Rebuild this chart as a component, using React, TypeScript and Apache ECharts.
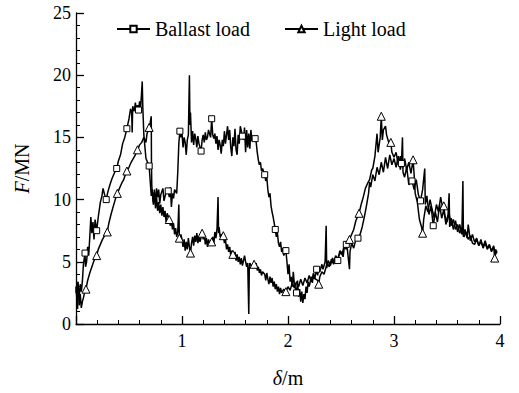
import React, { useEffect, useRef } from "react";
import * as echarts from "echarts";

// [delta (m), F (MN), marker flag]
const ballastLoad: [number, number, number][] = [
  [0.0, 2.5, 0], [0.01, 3.4, 0], [0.015, 1.2, 0], [0.02, 3.0, 0], [0.03, 2.2, 0], [0.04, 3.2, 0],
  [0.05, 2.6, 0], [0.06, 3.4, 0], [0.07, 4.8, 0], [0.085, 5.7, 1], [0.09, 4.6, 0], [0.1, 5.0, 0],
  [0.11, 6.2, 0], [0.12, 5.5, 0], [0.13, 7.0, 0], [0.14, 8.6, 0], [0.15, 7.3, 0], [0.16, 8.2, 0],
  [0.17, 6.8, 0], [0.18, 8.4, 0], [0.195, 7.5, 1], [0.21, 8.6, 0], [0.23, 9.8, 0], [0.245, 10.3, 0],
  [0.255, 10.9, 0], [0.27, 10.4, 0], [0.285, 10.0, 1], [0.3, 10.6, 0], [0.32, 11.2, 0], [0.34, 11.7, 0],
  [0.36, 12.1, 0], [0.384, 12.5, 1], [0.4, 13.1, 0], [0.42, 13.6, 0], [0.44, 14.5, 0], [0.46, 15.0, 0],
  [0.48, 15.7, 1], [0.5, 16.5, 0], [0.515, 17.3, 0], [0.525, 17.0, 0], [0.53, 15.4, 0], [0.535, 17.5, 0],
  [0.55, 17.1, 0], [0.56, 17.8, 0], [0.57, 17.2, 0], [0.58, 17.6, 0], [0.59, 17.2, 1], [0.6, 17.9, 0],
  [0.61, 17.4, 0], [0.625, 19.5, 0], [0.63, 17.5, 0], [0.64, 15.2, 0], [0.66, 13.3, 0], [0.69, 12.7, 1],
  [0.7, 11.5, 0], [0.71, 10.3, 0], [0.72, 10.8, 0], [0.73, 9.8, 0], [0.74, 10.6, 0], [0.75, 9.6, 0],
  [0.76, 10.9, 0], [0.77, 10.2, 0], [0.78, 10.8, 0], [0.79, 9.7, 0], [0.8, 10.4, 0], [0.82, 10.9, 0],
  [0.83, 9.9, 0], [0.85, 10.6, 0], [0.87, 10.7, 1], [0.88, 10.2, 0], [0.89, 11.0, 0], [0.9, 9.4, 0],
  [0.91, 10.5, 0], [0.92, 10.1, 0], [0.93, 10.8, 0], [0.95, 10.5, 0], [0.96, 12.2, 0], [0.97, 14.5, 0],
  [0.98, 15.5, 1], [0.99, 15.0, 0], [1.0, 15.3, 0], [1.01, 14.2, 0], [1.02, 15.0, 0], [1.03, 14.6, 0],
  [1.04, 13.6, 0], [1.05, 14.8, 0], [1.06, 15.2, 0], [1.07, 20.0, 0], [1.075, 16.0, 0], [1.08, 17.0, 0],
  [1.09, 14.6, 0], [1.1, 15.5, 0], [1.11, 14.4, 0], [1.12, 15.3, 0], [1.13, 14.9, 0], [1.14, 14.2, 0],
  [1.15, 15.1, 0], [1.16, 14.5, 0], [1.18, 13.9, 1], [1.19, 14.8, 0], [1.2, 15.2, 0], [1.21, 14.6, 0],
  [1.22, 15.4, 0], [1.23, 14.8, 0], [1.24, 15.0, 0], [1.25, 15.6, 0], [1.27, 15.0, 0], [1.28, 16.5, 1],
  [1.29, 15.2, 0], [1.3, 14.9, 0], [1.31, 15.3, 0], [1.32, 14.5, 0], [1.33, 15.1, 0], [1.34, 14.0, 0],
  [1.35, 14.8, 0], [1.36, 14.4, 0], [1.37, 13.7, 0], [1.38, 14.8, 0], [1.39, 14.3, 0], [1.4, 15.5, 0],
  [1.41, 14.5, 0], [1.42, 15.2, 0], [1.43, 15.9, 0], [1.44, 14.8, 0], [1.45, 15.6, 0], [1.46, 14.2, 0],
  [1.47, 13.5, 0], [1.48, 15.0, 0], [1.49, 14.3, 0], [1.5, 15.7, 0], [1.51, 14.0, 0], [1.52, 13.6, 0],
  [1.53, 15.2, 0], [1.54, 14.5, 0], [1.55, 15.9, 0], [1.57, 15.1, 1], [1.58, 14.8, 0], [1.59, 15.8, 0],
  [1.6, 13.8, 0], [1.61, 15.6, 0], [1.62, 14.2, 0], [1.63, 15.3, 0], [1.64, 14.1, 0], [1.65, 15.6, 0],
  [1.66, 14.7, 0], [1.67, 14.9, 0], [1.69, 14.9, 1], [1.7, 14.6, 0], [1.71, 13.8, 0], [1.72, 13.2, 0],
  [1.73, 12.8, 0], [1.74, 13.0, 0], [1.75, 12.3, 0], [1.76, 12.5, 0], [1.78, 12.0, 1], [1.79, 11.5, 0],
  [1.8, 11.8, 0], [1.81, 10.8, 0], [1.82, 10.2, 0], [1.83, 10.5, 0], [1.84, 9.5, 0], [1.85, 9.0, 0],
  [1.86, 8.6, 0], [1.88, 7.6, 1], [1.89, 7.0, 0], [1.9, 7.3, 0], [1.91, 6.5, 0], [1.92, 6.2, 0],
  [1.93, 6.6, 0], [1.94, 5.8, 0], [1.95, 6.1, 0], [1.96, 5.5, 0], [1.98, 5.9, 1], [1.99, 5.0, 0],
  [2.0, 4.0, 0], [2.01, 4.8, 0], [2.02, 3.4, 0], [2.03, 3.8, 0], [2.04, 3.0, 0], [2.05, 4.2, 0],
  [2.06, 3.2, 0], [2.08, 2.5, 1], [2.09, 3.5, 0], [2.1, 2.2, 0], [2.11, 2.8, 0], [2.12, 1.8, 0],
  [2.13, 2.6, 0], [2.14, 1.7, 0], [2.15, 2.4, 0], [2.16, 2.0, 0], [2.17, 3.0, 0], [2.18, 2.5, 0],
  [2.19, 3.4, 0], [2.2, 3.0, 0], [2.22, 3.8, 0], [2.23, 3.3, 0], [2.24, 4.1, 0], [2.25, 3.6, 0],
  [2.27, 4.4, 1], [2.28, 3.9, 0], [2.29, 4.6, 0], [2.3, 4.2, 0], [2.32, 4.8, 0], [2.33, 4.4, 0],
  [2.35, 5.0, 0], [2.36, 7.9, 0], [2.365, 4.5, 0], [2.38, 5.1, 0], [2.4, 4.7, 0], [2.42, 5.3, 0],
  [2.44, 4.9, 0], [2.47, 5.1, 1], [2.48, 5.5, 0], [2.5, 5.8, 0], [2.52, 5.4, 0], [2.53, 6.1, 0],
  [2.55, 6.4, 1], [2.56, 6.0, 0], [2.58, 4.4, 0], [2.585, 5.8, 0], [2.6, 6.5, 0], [2.62, 6.1, 0],
  [2.64, 6.8, 0], [2.66, 6.9, 1], [2.68, 7.2, 0], [2.7, 7.8, 0], [2.72, 8.6, 0], [2.74, 9.5, 0],
  [2.76, 10.5, 0], [2.77, 11.4, 0], [2.78, 11.0, 0], [2.8, 12.0, 0], [2.82, 11.5, 0], [2.84, 12.6, 0],
  [2.86, 12.0, 0], [2.88, 13.0, 0], [2.9, 12.2, 0], [2.92, 13.4, 0], [2.94, 12.5, 0], [2.96, 13.6, 0],
  [2.98, 12.8, 0], [3.0, 13.3, 0], [3.02, 12.6, 0], [3.04, 13.5, 0], [3.06, 12.4, 0], [3.07, 12.9, 1],
  [3.08, 15.0, 0], [3.085, 12.2, 0], [3.1, 11.8, 0], [3.12, 12.6, 0], [3.14, 11.2, 0], [3.17, 11.5, 1],
  [3.19, 10.8, 0], [3.21, 11.6, 0], [3.23, 10.4, 0], [3.25, 9.9, 1], [3.27, 10.8, 0], [3.29, 12.5, 0],
  [3.295, 9.6, 0], [3.31, 10.3, 0], [3.33, 8.8, 0], [3.35, 9.5, 0], [3.37, 7.9, 1], [3.39, 9.0, 0],
  [3.41, 8.2, 0], [3.43, 9.6, 0], [3.45, 8.5, 0], [3.47, 9.2, 0], [3.49, 8.0, 0], [3.51, 8.8, 0],
  [3.52, 10.5, 0], [3.525, 7.8, 0], [3.54, 8.5, 0], [3.56, 7.6, 0], [3.58, 8.3, 0], [3.6, 7.4, 0],
  [3.62, 8.0, 0], [3.64, 7.2, 0], [3.65, 11.5, 0], [3.655, 7.0, 0], [3.67, 7.6, 0], [3.69, 6.9, 0],
  [3.7, 8.0, 0], [3.72, 6.7, 0], [3.74, 7.2, 0], [3.76, 6.6, 0], [3.78, 6.9, 0], [3.8, 6.3, 0],
  [3.82, 6.8, 0], [3.84, 6.1, 0], [3.86, 6.5, 0], [3.88, 6.0, 0], [3.9, 6.3, 0], [3.92, 5.9, 0],
  [3.94, 6.2, 0], [3.96, 5.6, 0], [3.97, 5.9, 0],
];

const lightLoad: [number, number, number][] = [
  [0.0, 3.0, 0], [0.01, 1.8, 0], [0.02, 3.4, 0], [0.03, 1.5, 0], [0.04, 2.4, 0], [0.05, 1.3, 0],
  [0.06, 1.8, 0], [0.07, 2.1, 0], [0.08, 2.5, 0], [0.094, 2.8, 1], [0.11, 3.5, 0], [0.13, 4.1, 0],
  [0.15, 4.6, 0], [0.17, 5.1, 0], [0.195, 5.5, 1], [0.21, 6.0, 0], [0.23, 6.4, 0], [0.25, 6.8, 0],
  [0.27, 7.1, 0], [0.295, 7.4, 1], [0.31, 8.1, 0], [0.33, 8.8, 0], [0.35, 9.4, 0], [0.37, 10.0, 0],
  [0.39, 10.5, 1], [0.41, 10.9, 0], [0.43, 11.3, 0], [0.45, 11.6, 0], [0.465, 12.0, 0], [0.48, 12.3, 1],
  [0.5, 12.6, 0], [0.52, 13.0, 0], [0.54, 13.3, 0], [0.56, 13.6, 0], [0.58, 14.0, 1], [0.6, 14.4, 0],
  [0.62, 14.6, 0], [0.64, 15.0, 0], [0.66, 14.6, 0], [0.67, 15.3, 0], [0.69, 15.8, 1], [0.7, 16.2, 0],
  [0.71, 16.7, 0], [0.712, 13.0, 0], [0.715, 11.1, 0], [0.72, 10.5, 0], [0.73, 9.6, 0], [0.74, 10.8, 0],
  [0.75, 9.3, 0], [0.76, 10.2, 0], [0.77, 9.1, 0], [0.78, 9.8, 0], [0.79, 8.9, 0], [0.8, 9.6, 0],
  [0.81, 8.7, 0], [0.82, 9.4, 0], [0.83, 8.6, 0], [0.84, 9.1, 0], [0.85, 8.2, 0], [0.86, 8.9, 0],
  [0.88, 8.4, 1], [0.89, 7.9, 0], [0.9, 8.3, 0], [0.91, 7.6, 0], [0.92, 8.1, 0], [0.93, 7.2, 0],
  [0.94, 7.7, 0], [0.95, 7.0, 0], [0.96, 7.4, 0], [0.97, 9.6, 0], [0.975, 6.9, 1], [0.99, 7.2, 0],
  [1.0, 6.8, 0], [1.01, 6.2, 0], [1.02, 6.8, 0], [1.03, 5.9, 0], [1.04, 6.6, 0], [1.05, 6.0, 0],
  [1.06, 6.9, 0], [1.07, 6.2, 0], [1.08, 5.7, 1], [1.09, 6.5, 0], [1.1, 7.0, 0], [1.11, 6.3, 0],
  [1.12, 7.1, 0], [1.13, 6.6, 0], [1.14, 7.3, 0], [1.15, 6.5, 0], [1.16, 7.0, 0], [1.17, 6.6, 0],
  [1.19, 7.3, 1], [1.2, 6.8, 0], [1.21, 7.2, 0], [1.22, 6.4, 0], [1.23, 6.9, 0], [1.24, 6.2, 0],
  [1.25, 6.8, 0], [1.26, 6.5, 0], [1.28, 6.6, 1], [1.29, 7.0, 0], [1.3, 6.4, 0], [1.31, 7.4, 0],
  [1.32, 6.9, 0], [1.33, 7.6, 0], [1.34, 10.2, 0], [1.345, 7.3, 0], [1.35, 7.8, 0], [1.36, 7.0, 0],
  [1.37, 7.2, 0], [1.39, 7.1, 1], [1.4, 6.5, 0], [1.41, 6.8, 0], [1.42, 6.0, 0], [1.43, 6.4, 0],
  [1.44, 5.8, 0], [1.45, 6.2, 0], [1.46, 5.5, 0], [1.47, 5.9, 0], [1.48, 5.6, 1], [1.49, 5.3, 0],
  [1.5, 5.8, 0], [1.51, 5.1, 0], [1.52, 5.6, 0], [1.53, 5.0, 0], [1.54, 5.4, 0], [1.55, 4.8, 0],
  [1.56, 5.3, 0], [1.57, 4.7, 0], [1.58, 5.1, 0], [1.59, 5.5, 0], [1.6, 5.0, 0], [1.61, 4.6, 0],
  [1.62, 4.9, 0], [1.63, 0.8, 0], [1.635, 4.5, 0], [1.64, 4.9, 0], [1.66, 4.6, 0], [1.68, 4.8, 1],
  [1.69, 4.5, 0], [1.7, 4.9, 0], [1.71, 4.3, 0], [1.72, 4.6, 0], [1.73, 4.1, 0], [1.74, 4.4, 0],
  [1.75, 3.9, 0], [1.76, 4.2, 0], [1.78, 4.0, 0], [1.79, 3.5, 0], [1.8, 4.1, 0], [1.81, 3.6, 0],
  [1.82, 3.2, 0], [1.83, 3.8, 0], [1.84, 3.3, 0], [1.85, 3.7, 0], [1.86, 3.0, 0], [1.87, 3.4, 0],
  [1.88, 2.8, 0], [1.89, 3.2, 0], [1.9, 2.6, 0], [1.91, 3.0, 0], [1.92, 2.4, 0], [1.93, 2.9, 0],
  [1.94, 2.5, 0], [1.96, 2.8, 0], [1.98, 2.6, 1], [2.0, 3.0, 0], [2.02, 2.7, 0], [2.04, 3.3, 0],
  [2.06, 2.9, 0], [2.08, 3.4, 0], [2.1, 3.0, 0], [2.12, 3.6, 0], [2.14, 3.1, 0], [2.16, 3.7, 0],
  [2.18, 3.3, 0], [2.2, 3.9, 0], [2.22, 3.4, 0], [2.24, 4.0, 0], [2.26, 3.6, 0], [2.28, 3.5, 0],
  [2.29, 3.2, 1], [2.3, 3.8, 0], [2.32, 4.2, 0], [2.34, 4.0, 0], [2.36, 4.6, 0], [2.37, 4.9, 0],
  [2.39, 4.6, 0], [2.41, 5.2, 0], [2.43, 4.8, 0], [2.45, 5.5, 0], [2.47, 5.2, 0], [2.49, 5.9, 0],
  [2.51, 5.6, 0], [2.53, 6.3, 0], [2.55, 6.0, 0], [2.58, 6.8, 1], [2.6, 7.2, 0], [2.62, 7.6, 0],
  [2.64, 8.3, 0], [2.67, 8.9, 1], [2.69, 9.6, 0], [2.71, 10.2, 0], [2.73, 10.9, 0], [2.75, 11.3, 0],
  [2.77, 11.6, 0], [2.79, 12.4, 0], [2.8, 12.5, 0], [2.82, 13.5, 0], [2.84, 15.3, 0], [2.85, 13.8, 0],
  [2.87, 15.0, 0], [2.88, 16.7, 1], [2.89, 14.8, 0], [2.9, 15.6, 0], [2.92, 15.9, 0], [2.93, 15.2, 0],
  [2.95, 14.6, 0], [2.97, 14.6, 1], [2.98, 13.8, 0], [3.0, 13.4, 0], [3.02, 13.8, 0], [3.04, 12.8, 0],
  [3.06, 13.5, 0], [3.08, 12.6, 0], [3.1, 13.3, 0], [3.12, 12.4, 0], [3.14, 13.0, 0], [3.16, 12.1, 0],
  [3.18, 13.2, 1], [3.19, 12.0, 0], [3.2, 10.5, 0], [3.22, 9.8, 0], [3.24, 8.4, 0], [3.26, 7.8, 0],
  [3.27, 7.3, 1], [3.28, 8.4, 0], [3.3, 9.5, 0], [3.32, 9.0, 0], [3.34, 10.0, 0], [3.36, 9.2, 0],
  [3.38, 8.5, 0], [3.4, 9.6, 0], [3.42, 9.0, 0], [3.44, 10.2, 0], [3.46, 9.3, 0], [3.47, 9.5, 1],
  [3.48, 8.7, 0], [3.5, 8.2, 0], [3.52, 8.9, 0], [3.54, 7.9, 0], [3.56, 8.4, 0], [3.58, 7.6, 0],
  [3.6, 8.0, 0], [3.62, 7.3, 0], [3.64, 7.7, 0], [3.66, 7.0, 0], [3.68, 7.4, 0], [3.7, 6.8, 0],
  [3.72, 7.1, 0], [3.74, 6.5, 0], [3.76, 6.4, 0], [3.78, 6.8, 0], [3.8, 6.3, 0], [3.82, 6.6, 0],
  [3.84, 6.2, 0], [3.86, 6.7, 0], [3.88, 6.1, 0], [3.9, 6.4, 0], [3.92, 5.8, 0], [3.94, 6.3, 0],
  [3.95, 5.3, 1], [3.96, 6.0, 0], [3.97, 5.7, 0],
];

const seriesNames = ["Ballast load", "Light load"];
const xTicks = { min: 0, max: 4, interval: 1 };
const yTicks = { min: 0, max: 25, interval: 5 };

const FONT = "'Liberation Serif', 'DejaVu Serif', serif";

export default function App() {
  const ref = useRef<HTMLDivElement>(null);
  useEffect(() => {
    if (!ref.current) return;
    const chart = echarts.init(ref.current, undefined, { renderer: "svg" });
    const line = (name: string, data: [number, number, number][], symbol: string) => ({
      name,
      type: "line",
      data: data.map((d) => [d[0], d[1]]),
      showSymbol: false,
      symbol,
      symbolSize: 6,
      lineStyle: { color: "#000", width: 1.5 },
      itemStyle: { color: "#fff", borderColor: "#000", borderWidth: 1 },
      z: 2,
    });
    const marks = (name: string, data: [number, number, number][], symbol: string, size: number) => ({
      name: name + " markers",
      type: "scatter",
      data: data.filter((d) => d[2] === 1).map((d) => [d[0], d[1]]),
      symbol,
      symbolSize: size,
      itemStyle: { color: "#fff", borderColor: "#000", borderWidth: 1, opacity: 1 },
      z: 3,
    });
    const axisCommon = {
      axisLine: { show: true, lineStyle: { color: "#000", width: 1.3 } },
      axisTick: { show: true, inside: true, length: 8, lineStyle: { color: "#000", width: 1.3 } },
      minorTick: { show: true, splitNumber: 5, length: 4, lineStyle: { color: "#000", width: 1 } },
      splitLine: { show: false },
      minorSplitLine: { show: false },
      nameLocation: "middle",
    };
    chart.setOption({
      animation: false,
      backgroundColor: "#fff",
      grid: { left: 76, right: 19, top: 13, bottom: 68 },
      legend: {
        data: seriesNames,
        left: 111,
        top: 14,
        itemWidth: 33,
        itemHeight: 8,
        itemGap: 34,
        textStyle: { fontFamily: FONT, fontSize: 20, color: "#000" },
      },
      xAxis: {
        type: "value",
        ...xTicks,
        ...axisCommon,
        name: "{i|δ}/m",
        nameGap: 44,
        nameTextStyle: {
          fontFamily: FONT,
          fontSize: 20,
          color: "#000",
          rich: { i: { fontFamily: FONT, fontSize: 20, fontStyle: "italic", color: "#000" } },
        },
        axisLabel: {
          fontFamily: FONT,
          fontSize: 18,
          color: "#000",
          margin: 8,
          formatter: (v: number) => (v === 0 ? "" : String(v)),
        },
      },
      yAxis: {
        type: "value",
        ...yTicks,
        ...axisCommon,
        name: "{i|F}/MN",
        nameGap: 44,
        nameTextStyle: {
          fontFamily: FONT,
          fontSize: 20,
          color: "#000",
          rich: { i: { fontFamily: FONT, fontSize: 20, fontStyle: "italic", color: "#000" } },
        },
        axisLabel: { fontFamily: FONT, fontSize: 18, color: "#000", margin: 5 },
      },
      series: [
        line(seriesNames[0], ballastLoad, "rect"),
        line(seriesNames[1], lightLoad, "triangle"),
        marks(seriesNames[0], ballastLoad, "rect", 6),
        marks(seriesNames[1], lightLoad, "triangle", 8),
      ],
    });
    return () => chart.dispose();
  }, []);
  return <div ref={ref} style={{ width: 519, height: 393, position: "absolute", left: 0, top: 0 }} />;
}
